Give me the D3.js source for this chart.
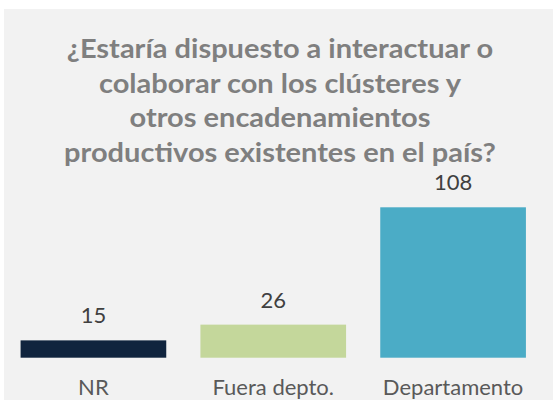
<!DOCTYPE html>
<html>
<head>
<meta charset="utf-8">
<script src="https://cdn.jsdelivr.net/npm/d3@7"></script>
<style>
  html, body { margin: 0; padding: 0; background: #ffffff; }
  svg { display: block; }
</style>
</head>
<body>
<div id="chart"></div>
<script>
const titleLines = [
  "¿Estaría dispuesto a interactuar o",
  "colaborar con los clústeres y",
  "otros encadenamientos",
  "productivos existentes en el país?"
];
const categories = ["NR", "Fuera depto.", "Departamento"];
const values = [15, 26, 108];
const barColors = ["#10243e", "#c4d79b", "#4bacc6"];

const W = 553, H = 400;
const svg = d3.select("#chart").append("svg").attr("width", W).attr("height", H);

// panel background
svg.append("rect").attr("x", 4).attr("y", 9).attr("width", W - 4).attr("height", H - 9).attr("fill", "#f2f2f2");

// title
const fontFam = "Lato, 'Open Sans', 'DejaVu Sans', sans-serif";
const tg = svg.append("g");
const tText = tg.selectAll("text").data(titleLines).join("text")
  .attr("x", 0)
  .attr("y", (d, i) => 58 + i * 34.6)
  .attr("text-anchor", "middle")
  .attr("font-family", fontFam)
  .attr("font-weight", "bold")
  .attr("font-size", 27)
  .attr("fill", "#7f7f7f")
  .text(d => d);
let maxW = 0;
tText.each(function () { maxW = Math.max(maxW, this.getComputedTextLength()); });
const sx = 432 / maxW;
tg.attr("transform", `translate(280,0) scale(${sx},1)`);

// scales
const x = d3.scaleBand().domain(categories).range([3.5, 543]).paddingInner(0.19).paddingOuter(0.095);
const y = d3.scaleLinear().domain([2.9, 108]).range([357.7, 207.3]);

svg.selectAll("rect.bar").data(values).join("rect")
  .attr("class", "bar")
  .attr("x", (d, i) => x(categories[i]))
  .attr("width", x.bandwidth())
  .attr("y", d => y(d))
  .attr("height", d => y(y.domain()[0]) - y(d))
  .attr("fill", (d, i) => barColors[i]);

// data labels
svg.selectAll("text.val").data(values).join("text")
  .attr("class", "val")
  .attr("x", (d, i) => x(categories[i]) + x.bandwidth() / 2)
  .attr("y", d => y(d) - 17)
  .attr("text-anchor", "middle")
  .attr("font-family", fontFam)
  .attr("font-size", 22)
  .attr("fill", "#404040")
  .text(d => d);

// category axis labels
const axis = d3.axisBottom(x).tickSize(0).tickPadding(0);
const ag = svg.append("g").attr("transform", "translate(0,380)").call(axis);
ag.select(".domain").remove();
ag.selectAll("text")
  .attr("dy", null)
  .attr("y", 15)
  .attr("font-family", fontFam)
  .attr("font-size", 22)
  .attr("fill", "#595959");
</script>
</body>
</html>
